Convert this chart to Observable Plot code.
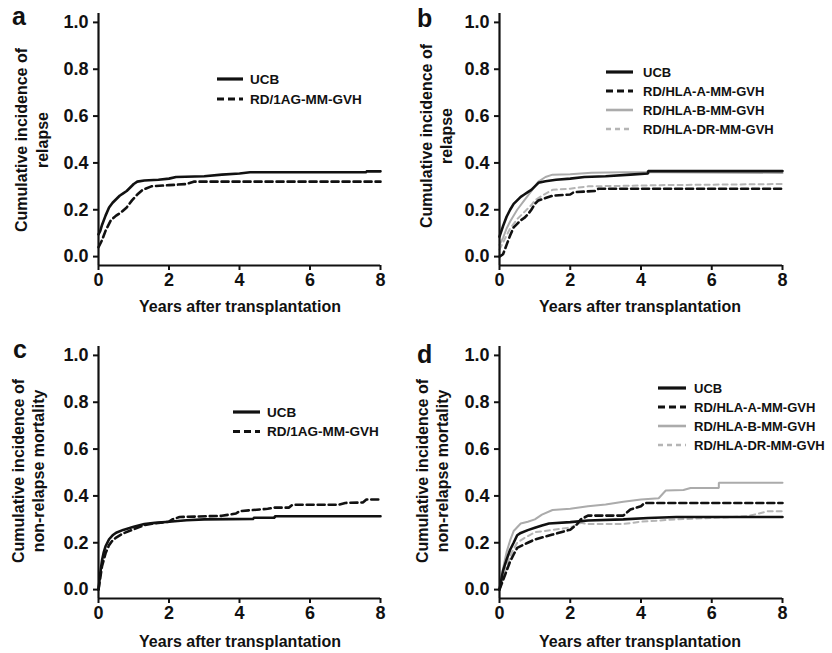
<!DOCTYPE html>
<html><head><meta charset="utf-8">
<script src="https://cdn.jsdelivr.net/npm/d3@7"></script>
<script src="https://cdn.jsdelivr.net/npm/@observablehq/plot@0.6"></script>
<style>
body{margin:0;background:#fff;}
#root{position:relative;width:832px;height:653px;overflow:hidden;font-family:"Liberation Sans",Arial,Helvetica,sans-serif;font-weight:bold;color:#111;}
.panel{position:absolute;}
</style></head><body><div id="root"></div>
<script>
// ---- tick labels ----
const xTicks = [0, 2, 4, 6, 8];
const yTicks = [0, 0.2, 0.4, 0.6, 0.8, 1.0];
const xTitle = "Years after transplantation";
const yTitleRelapse = ["Cumulative incidence of", "relapse"];
const yTitleNRM = ["Cumulative incidence of", "non-relapse mortality"];

// ---- series names ----
const namesTwo = ["UCB", "RD/1AG-MM-GVH"];
const namesFour = ["UCB", "RD/HLA-A-MM-GVH", "RD/HLA-B-MM-GVH", "RD/HLA-DR-MM-GVH"];

// ---- panel a: relapse, UCB vs RD/1AG-MM-GVH  [years, cumulative incidence] ----
const aUCB = [[0,0.095],[0.05,0.11],[0.1,0.135],[0.2,0.175],[0.3,0.21],[0.4,0.23],[0.5,0.245],[0.6,0.26],[0.7,0.27],[0.8,0.28],[0.9,0.295],[1.0,0.31],[1.1,0.32],[1.3,0.325],[1.7,0.328],[2.0,0.333],[2.2,0.34],[3.0,0.343],[3.5,0.35],[4.0,0.355],[4.3,0.36],[7.6,0.36],[7.6,0.364],[8,0.364]];
const aRD = [[0,0.04],[0.1,0.07],[0.2,0.11],[0.35,0.155],[0.5,0.175],[0.65,0.19],[0.8,0.21],[0.95,0.24],[1.1,0.265],[1.25,0.285],[1.5,0.3],[2.0,0.305],[2.5,0.31],[2.7,0.32],[8,0.32]];

// ---- panel b: relapse by mismatched locus ----
const bUCB = [[0,0.085],[0.1,0.13],[0.2,0.17],[0.3,0.2],[0.4,0.225],[0.5,0.24],[0.6,0.255],[0.7,0.265],[0.8,0.275],[0.9,0.285],[1.0,0.3],[1.1,0.315],[1.3,0.322],[1.6,0.328],[2.0,0.333],[2.4,0.34],[3.0,0.343],[3.7,0.35],[4.2,0.355],[4.2,0.365],[8,0.365]];
const bA = [[0,0],[0.1,0.01],[0.2,0.05],[0.3,0.09],[0.4,0.125],[0.5,0.14],[0.6,0.155],[0.7,0.165],[0.8,0.18],[0.9,0.2],[1.0,0.225],[1.1,0.24],[1.3,0.25],[1.5,0.26],[2.0,0.265],[2.1,0.275],[2.7,0.28],[2.8,0.29],[8,0.29]];
const bB = [[0,0.05],[0.1,0.08],[0.2,0.12],[0.3,0.15],[0.5,0.2],[0.7,0.24],[0.9,0.28],[1.0,0.3],[1.1,0.32],[1.3,0.34],[1.5,0.35],[2.0,0.352],[2.6,0.358],[3.5,0.36],[4.5,0.36],[8,0.357]];
const bDR = [[0,0.03],[0.1,0.06],[0.2,0.09],[0.3,0.12],[0.5,0.16],[0.7,0.19],[0.9,0.22],[1.0,0.24],[1.2,0.26],[1.5,0.285],[2.0,0.29],[2.5,0.3],[3.5,0.302],[4.5,0.305],[8,0.31]];

// ---- panel c: non-relapse mortality, UCB vs RD/1AG-MM-GVH ----
const cUCB = [[0,0],[0.05,0.07],[0.1,0.125],[0.15,0.16],[0.2,0.185],[0.3,0.215],[0.4,0.232],[0.5,0.243],[0.7,0.255],[1.0,0.268],[1.3,0.28],[1.6,0.285],[2.0,0.29],[2.5,0.296],[3.0,0.3],[4.4,0.302],[4.4,0.307],[5.0,0.307],[5.0,0.313],[8,0.313]];
const cRD = [[0,0],[0.05,0.05],[0.1,0.1],[0.2,0.155],[0.3,0.19],[0.4,0.21],[0.5,0.222],[0.7,0.24],[1.0,0.258],[1.3,0.275],[1.6,0.283],[2.0,0.29],[2.1,0.3],[2.3,0.31],[3.5,0.315],[3.9,0.325],[4.0,0.335],[4.8,0.345],[5.0,0.35],[5.4,0.35],[5.5,0.362],[6.8,0.362],[7.0,0.37],[7.5,0.372],[7.6,0.385],[8,0.385]];

// ---- panel d: non-relapse mortality by mismatched locus ----
const dUCB = [[0,0],[0.1,0.08],[0.2,0.128],[0.3,0.17],[0.4,0.2],[0.5,0.232],[0.6,0.242],[0.8,0.254],[1.0,0.264],[1.2,0.274],[1.4,0.282],[2.0,0.288],[2.5,0.295],[3.5,0.3],[4.2,0.306],[5.0,0.31],[8,0.31]];
const dA = [[0,0],[0.1,0.04],[0.2,0.08],[0.3,0.12],[0.4,0.15],[0.5,0.178],[0.8,0.2],[1.0,0.214],[1.5,0.235],[2.0,0.256],[2.2,0.28],[2.3,0.3],[2.5,0.316],[3.5,0.316],[3.7,0.342],[4.0,0.356],[4.1,0.37],[8,0.37]];
const dB = [[0,0],[0.1,0.09],[0.2,0.16],[0.3,0.21],[0.4,0.25],[0.6,0.282],[0.8,0.29],[1.0,0.3],[1.2,0.32],[1.5,0.34],[2.0,0.345],[2.5,0.356],[3.0,0.363],[3.5,0.375],[4.0,0.385],[4.5,0.39],[4.7,0.423],[5.2,0.425],[5.4,0.434],[6.2,0.434],[6.2,0.456],[8,0.456]];
const dDR = [[0,0],[0.1,0.05],[0.2,0.1],[0.35,0.16],[0.5,0.2],[0.7,0.22],[1.0,0.245],[1.5,0.255],[2.0,0.265],[2.3,0.285],[2.5,0.28],[3.5,0.28],[4.0,0.29],[5.0,0.3],[6.0,0.306],[7.0,0.313],[7.6,0.335],[8,0.335]];

// ---- styles ----
const FONT = '"Liberation Sans", Arial, Helvetica, sans-serif';
const styleSolid = {stroke: "#111", strokeWidth: 2.6, dash: null};
const styleDash = {stroke: "#111", strokeWidth: 2.6, dash: "7,4"};
const styleGray = {stroke: "#ababab", strokeWidth: 2, dash: null};
const styleGrayDash = {stroke: "#b5b5b5", strokeWidth: 2, dash: "5,4"};

const yDomain = [-0.038, 1.038];
const xDomain = [0, 8];

const panels = [
  {letter: "a", left: 0, top: 0, ml: 98, mr: 36, ytitle: yTitleRelapse,
   series: [[namesTwo[0], aUCB, styleSolid], [namesTwo[1], aRD, styleDash]],
   legend: {x1: 217, x2: 243, tx: 250, y: 79, step: 20, fs: 13.5},
   yt: {x: 32, y: 140, gap: 21}, xt: {x: 240, y: 306}, lt: {x: 12, y: 25}},
  {letter: "b", left: 416, top: 0, ml: 83, mr: 50, ytitle: yTitleRelapse,
   series: [[namesFour[0], bUCB, styleSolid], [namesFour[1], bA, styleDash], [namesFour[2], bB, styleGray], [namesFour[3], bDR, styleGrayDash]],
   legend: {x1: 606, x2: 633, tx: 643, y: 72, step: 19, fs: 13},
   yt: {x: 436, y: 136, gap: 20}, xt: {x: 640, y: 306}, lt: {x: 417, y: 27}},
  {letter: "c", left: 0, top: 333, ml: 98, mr: 36, ytitle: yTitleNRM,
   series: [[namesTwo[0], cUCB, styleSolid], [namesTwo[1], cRD, styleDash]],
   legend: {x1: 233, x2: 260, tx: 267, y: 412, step: 19.5, fs: 13.5},
   yt: {x: 28, y: 471, gap: 20}, xt: {x: 240, y: 641}, lt: {x: 13, y: 358}},
  {letter: "d", left: 416, top: 333, ml: 83, mr: 50, ytitle: yTitleNRM,
   series: [[namesFour[0], dUCB, styleSolid], [namesFour[1], dA, styleDash], [namesFour[2], dB, styleGray], [namesFour[3], dDR, styleGrayDash]],
   legend: {x1: 658, x2: 686, tx: 694, y: 388, step: 19, fs: 13},
   yt: {x: 432, y: 471, gap: 20}, xt: {x: 640, y: 641}, lt: {x: 417, y: 363}}
];

const root = document.getElementById("root");

for (const p of panels) {
  // draw gray series first, black on top
  const order = [...p.series].sort((s, t) => (s[2].stroke === "#111") - (t[2].stroke === "#111"));
  const chart = Plot.plot({
    width: 416, height: 320,
    marginLeft: p.ml, marginRight: p.mr, marginTop: 13, marginBottom: 55,
    x: {domain: xDomain},
    y: {domain: yDomain},
    style: {fontFamily: FONT, fontSize: "18px", fontWeight: "bold", color: "#111", background: "transparent", overflow: "visible"},
    marks: [
      ...order.map(([name, data, st]) => Plot.line(data, {
        x: d => d[0], y: d => d[1], stroke: st.stroke, strokeWidth: st.strokeWidth,
        strokeDasharray: st.dash, curve: "linear", strokeLinejoin: "miter"
      })),
      Plot.ruleX([xDomain[0]], {stroke: "#111", strokeWidth: 2.2}),
      Plot.ruleY([yDomain[0]], {stroke: "#111", strokeWidth: 2.2}),
      Plot.axisX({ticks: xTicks, tickSize: 5, tickPadding: 3, strokeWidth: 2, label: null, tickFormat: d => String(d), fontSize: 18, fontWeight: "bold", fill: "#111"}),
      Plot.axisY({ticks: yTicks, tickSize: 5, tickPadding: 5, strokeWidth: 2, label: null, tickFormat: d => d.toFixed(1), fontSize: 18, fontWeight: "bold", fill: "#111"})
    ]
  });
  const div = document.createElement("div");
  div.className = "panel";
  div.style.left = p.left + "px";
  div.style.top = p.top + "px";
  div.appendChild(chart);
  root.appendChild(div);
}

// overlay: titles, panel letters, legends
const ov = d3.select(root).append("svg")
  .attr("width", 832).attr("height", 653)
  .style("position", "absolute").style("left", 0).style("top", 0)
  .style("font-family", FONT).style("font-weight", "bold").style("fill", "#111");

for (const p of panels) {
  // panel letter
  ov.append("text").attr("x", p.lt.x).attr("y", p.lt.y).attr("font-size", 25).text(p.letter);
  // x title
  ov.append("text").attr("x", p.xt.x).attr("y", p.xt.y).attr("font-size", 16)
    .attr("text-anchor", "middle").attr("dominant-baseline", "central").text(xTitle);
  // y title (two lines, rotated)
  const g = ov.append("g").attr("transform", `translate(${p.yt.x},${p.yt.y}) rotate(-90)`);
  p.ytitle.forEach((line, i) => {
    g.append("text").attr("x", 0).attr("y", (i - (p.ytitle.length - 1) / 2) * p.yt.gap)
      .attr("font-size", 16).attr("text-anchor", "middle").attr("dominant-baseline", "central").text(line);
  });
  // legend
  p.series.forEach(([name, data, st], i) => {
    const y = p.legend.y + i * p.legend.step;
    ov.append("line").attr("x1", p.legend.x1).attr("x2", p.legend.x2).attr("y1", y).attr("y2", y)
      .attr("stroke", st.stroke).attr("stroke-width", st.strokeWidth + 0.6)
      .attr("stroke-dasharray", st.dash);
    ov.append("text").attr("x", p.legend.tx).attr("y", y).attr("font-size", p.legend.fs)
      .attr("dominant-baseline", "central").text(name);
  });
}
</script></body></html>
